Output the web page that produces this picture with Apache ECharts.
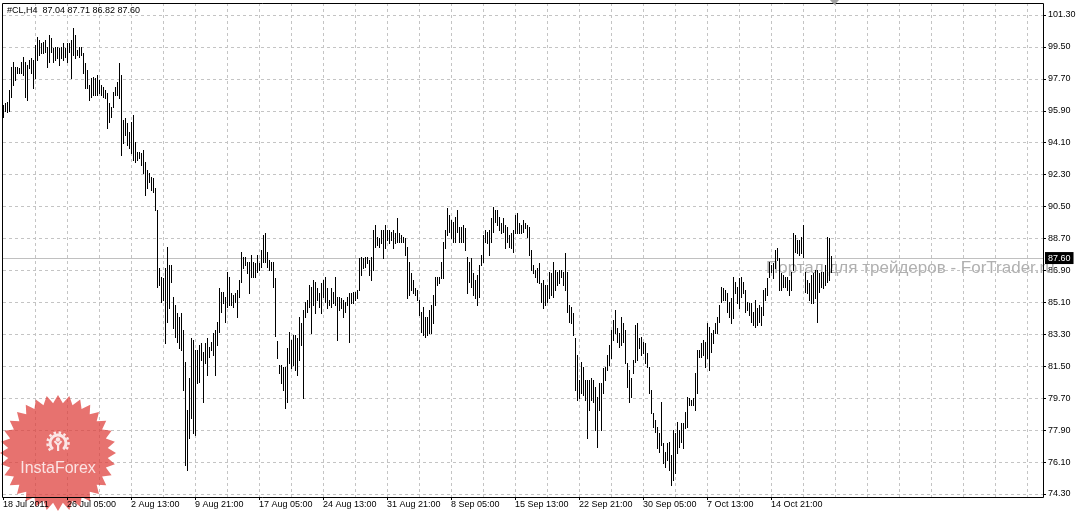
<!DOCTYPE html>
<html><head><meta charset="utf-8">
<script src="https://cdn.jsdelivr.net/npm/echarts@6/dist/echarts.min.js"></script>
<style>html,body{margin:0;padding:0;background:#fff}#c{width:1086px;height:516px}</style>
</head><body><div id="c"></div>
<script>
// ---- data ----
const symbolName = '#CL,H4';
const lastOpen = 87.04;
const lastClose = 87.60;
const xTickLabels = ['18 Jul 2011','26 Jul 05:00','2 Aug 13:00','9 Aug 21:00','17 Aug 05:00','24 Aug 13:00','31 Aug 21:00','8 Sep 05:00','15 Sep 13:00','22 Sep 21:00','30 Sep 05:00','7 Oct 13:00','14 Oct 21:00'];
const barsPerLabel = 32;
const barsPerGridLine = 16;
const totalSlots = 521;
const yMin = 74.30, yMax = 101.30, yStep = 1.80;
const watermark = 'Портал для трейдеров - ForTrader.ru';
const logoText = 'InstaForex';

const highs = [
96.23,96.34,96.40,97.07,98.37,98.65,98.37,98.37,98.32,98.65,
98.93,98.65,98.48,98.76,98.87,98.76,99.61,100.06,99.89,99.72,
99.78,99.89,99.50,100.17,100.00,99.44,99.50,99.50,99.44,99.50,
99.72,99.44,99.72,99.72,99.89,100.57,100.17,99.33,99.50,99.50,
99.16,98.59,98.20,97.36,97.75,97.81,97.75,97.92,97.64,97.36,
97.24,97.07,96.90,96.34,96.11,96.96,97.24,97.52,98.59,97.92,
95.38,95.49,95.21,94.71,95.27,95.66,94.14,93.58,93.58,93.52,
93.69,93.01,92.56,92.39,92.17,92.11,91.55,90.31,87.04,86.53,
86.47,87.04,88.22,87.21,87.21,85.40,84.95,84.50,84.28,84.50,
83.54,81.74,79.03,80.84,83.09,82.98,82.42,82.42,82.70,82.81,
82.31,82.81,83.09,82.59,82.87,83.37,83.54,83.99,85.91,85.69,
85.69,85.40,86.81,86.53,85.63,85.52,85.63,85.80,86.36,87.94,
87.66,87.66,87.38,87.38,87.77,87.38,87.32,87.77,87.32,88.05,
88.90,89.01,87.94,87.49,87.38,87.38,86.47,82.90,81.57,81.57,
81.46,81.46,82.53,83.43,82.98,83.26,83.26,83.09,84.28,83.94,
84.67,85.12,85.23,86.08,85.97,86.36,86.25,85.91,85.63,86.19,
86.36,86.53,85.91,85.23,85.91,85.69,86.53,85.40,85.40,85.34,
85.23,85.12,85.40,85.63,85.63,85.69,85.69,85.80,87.60,87.66,
87.60,87.66,87.66,87.49,87.66,89.18,89.47,88.79,88.73,89.18,
89.18,89.47,89.18,89.18,89.07,89.18,89.01,89.86,89.01,88.90,
88.79,88.73,88.22,87.38,86.76,86.36,85.91,85.80,85.23,84.56,
84.84,84.28,84.28,84.67,84.95,85.52,86.53,86.53,86.53,87.38,
88.50,89.18,90.42,90.03,89.75,89.63,89.92,90.31,89.35,89.35,
89.47,89.30,87.66,87.38,87.60,86.76,86.36,86.64,87.21,87.77,
88.90,89.18,89.07,89.18,89.86,90.48,90.31,90.31,89.92,89.58,
89.86,89.47,89.35,88.90,89.01,89.18,90.03,90.14,89.58,89.47,
89.75,89.58,89.47,89.35,88.05,87.21,86.93,87.04,87.32,86.19,
86.36,86.08,86.08,86.81,86.76,87.38,86.93,86.81,86.93,86.93,
86.81,87.88,86.81,84.95,84.84,84.50,83.09,82.13,80.72,81.74,
81.46,80.72,80.72,80.72,80.84,80.72,80.33,79.77,80.55,80.55,
81.40,81.46,82.13,82.70,83.54,84.11,84.67,83.66,83.37,84.28,
83.94,83.54,81.68,81.29,80.84,81.85,83.82,83.94,83.09,83.15,
82.87,82.81,82.25,81.46,80.16,78.87,78.47,78.08,77.74,79.49,
77.17,76.67,77.17,77.23,76.50,77.91,77.74,78.36,77.91,78.30,
78.30,78.92,79.77,79.71,79.60,79.71,81.12,82.42,82.42,82.81,
82.98,82.87,83.94,83.71,83.37,83.54,83.94,84.28,84.95,85.97,
85.91,85.80,85.63,85.12,85.34,86.53,86.25,85.97,86.47,86.53,
86.25,85.80,85.12,85.06,85.06,84.56,85.23,84.78,84.95,84.84,
85.80,85.91,86.47,87.38,87.21,87.32,88.05,88.17,87.60,86.76,
86.64,86.53,86.53,86.36,86.81,89.01,88.90,88.62,88.62,88.79,
89.47,86.81,86.36,86.19,86.64,86.76,86.93,86.93,86.76,86.81,
86.81,87.21,88.79,88.73,87.71
];
const lows = [
95.56,95.89,95.84,95.89,96.68,97.36,97.64,98.03,98.05,98.03,
97.92,96.68,96.51,98.31,98.03,97.19,97.75,98.76,99.05,99.16,
99.16,99.21,98.37,98.65,99.21,98.65,98.76,98.87,98.48,98.87,
98.76,98.93,98.65,99.21,97.75,99.05,98.87,99.05,98.93,99.05,
98.03,97.19,97.19,96.51,96.68,96.79,96.79,96.79,96.90,96.79,
96.68,96.62,94.93,95.27,95.56,96.11,96.79,96.79,96.62,93.41,
94.08,94.54,93.97,93.80,93.52,93.13,93.01,93.13,93.24,92.85,
92.39,91.15,91.55,91.89,91.44,91.32,90.31,85.97,86.08,85.12,
85.23,82.81,84.00,84.78,86.25,83.66,83.15,82.87,82.53,82.42,
80.16,75.94,75.65,77.45,78.58,77.74,77.63,80.55,80.61,81.85,
79.49,81.68,81.01,82.02,82.42,82.13,81.01,82.70,83.43,84.56,
85.06,83.99,84.84,84.95,84.95,84.84,85.12,84.28,85.40,86.25,
87.04,87.21,86.76,85.63,86.53,86.53,86.53,86.81,86.93,87.10,
87.38,87.38,87.10,86.93,86.93,85.97,83.20,81.97,81.12,80.55,
80.16,79.15,79.49,81.68,81.40,81.57,81.29,81.01,81.85,82.70,
79.71,84.28,84.56,84.84,83.37,84.95,84.50,85.23,84.84,84.50,
85.40,85.12,84.78,84.95,84.84,85.06,84.95,82.98,84.67,84.78,
84.28,84.56,84.95,82.87,85.06,85.06,85.23,85.34,85.80,86.64,
87.04,87.10,87.32,86.64,86.36,86.93,88.22,88.33,88.22,88.45,
87.60,88.17,88.62,88.45,88.62,88.17,88.45,88.50,88.50,88.50,
88.50,87.77,85.34,85.52,85.80,85.63,85.52,85.23,84.39,83.43,
83.26,83.15,83.26,83.37,83.37,83.94,84.95,86.08,86.19,86.47,
86.47,88.17,88.90,89.07,88.73,88.50,88.50,89.07,88.50,88.50,
88.50,88.05,85.63,86.25,85.97,85.52,85.34,84.95,85.40,87.21,
87.38,88.50,88.45,87.77,88.50,89.07,89.63,89.47,89.18,89.01,
89.07,88.17,88.50,88.22,88.17,87.94,89.01,89.01,89.01,89.01,
89.07,89.30,88.79,87.77,86.93,86.76,86.53,86.25,86.19,85.12,
84.78,84.95,85.12,85.34,85.52,85.40,85.80,86.08,86.19,86.53,
86.08,85.80,84.56,83.99,83.94,83.26,80.16,79.60,79.71,79.99,
79.88,79.60,77.45,79.03,79.60,79.49,77.91,76.95,79.03,77.91,
79.99,80.72,81.29,81.57,81.97,82.98,83.37,82.87,82.59,82.70,
82.87,81.68,80.33,79.49,79.77,81.12,81.74,81.85,82.53,82.13,
82.25,81.68,81.46,79.99,78.87,78.08,77.79,76.89,76.67,77.06,
76.05,75.82,76.22,75.65,74.81,75.09,75.48,76.61,76.95,77.23,
76.89,78.02,78.08,79.32,79.32,79.32,79.03,79.99,82.02,82.02,
82.13,81.46,81.97,81.29,82.31,82.81,83.37,83.37,83.99,85.12,
85.23,85.23,84.56,84.28,83.94,84.22,85.63,85.06,84.78,85.40,
85.63,84.56,84.67,84.39,83.99,83.82,83.71,83.82,83.99,83.82,
84.39,85.23,85.52,86.53,86.81,86.47,87.04,87.49,85.80,85.80,
85.97,85.97,85.80,85.52,85.80,86.93,87.94,87.88,87.77,87.88,
87.66,85.69,85.63,85.23,85.06,85.06,85.34,83.99,85.69,85.97,
85.91,86.08,86.25,86.36,86.82
];

// ---- chart ----
const FONT = '"Liberation Sans", Arial, sans-serif';
const GRID_COLOR = '#c4c4c4';
const cats = Array.from({length: totalSlots}, (_, i) => i);
const barData = highs.map((h, i) => [i, lows[i], h]);
const last = highs.length - 1;
const header = symbolName + '  ' + [lastOpen, highs[last], lows[last], lastClose].map(v => v.toFixed(2)).join(' ');
const labelAt = (i) => i % barsPerLabel === 0 && (i / barsPerLabel) < xTickLabels.length;

const starPts = [];
(function(){
  const N = 32, cx = 58, cy = 453, R = 58, r = 50;
  for (let k = 0; k < 2 * N; k++) {
    const a = Math.PI * k / N - Math.PI / 2;
    const rr = (k % 2) ? r : R;
    starPts.push([cx + rr * Math.cos(a), cy + rr * Math.sin(a)]);
  }
})();

const chart = echarts.init(document.getElementById('c'), null, {renderer: 'canvas'});
chart.setOption({
  animation: false,
  backgroundColor: '#ffffff',
  grid: [
    {left: 3, right: 43, top: 3, bottom: 19},
    {left: 3, right: 43, top: 15, bottom: 22}
  ],
  xAxis: [
    {gridIndex: 0, type: 'category', data: cats, boundaryGap: false, position: 'bottom', z: 20,
      axisLine: {show: false},
      axisTick: {show: true, length: 3, interval: labelAt, lineStyle: {color: '#000', width: 1}},
      axisLabel: {show: true, interval: labelAt, formatter: (v, i) => xTickLabels[i / barsPerLabel] || '',
        align: 'left', margin: 3, fontSize: 9, fontFamily: FONT, color: '#000'},
      splitLine: {show: false}},
    {gridIndex: 0, type: 'category', data: cats, boundaryGap: false, position: 'top',
      axisLine: {show: false}, axisTick: {show: false}, axisLabel: {show: false},
      splitLine: {show: true, interval: (i) => i > 0 && i % barsPerGridLine === 0,
        lineStyle: {color: GRID_COLOR, type: [3, 3], width: 1}}},
    {gridIndex: 1, type: 'category', data: cats, boundaryGap: false, show: false}
  ],
  yAxis: [
    {gridIndex: 0, type: 'value', min: 0, max: 1, show: false},
    {gridIndex: 1, type: 'value', position: 'right', min: yMin, max: yMax, interval: yStep,
      axisLine: {show: false},
      axisTick: {show: true, length: 3, lineStyle: {color: '#000'}},
      axisLabel: {margin: 5, fontSize: 9, fontFamily: FONT, color: '#000', formatter: v => v.toFixed(2)},
      splitLine: {show: true, lineStyle: {color: GRID_COLOR, type: [3, 3], width: 1}}}
  ],
  series: [{
    type: 'custom',
    xAxisIndex: 2, yAxisIndex: 1,
    data: barData,
    encode: {x: 0, y: [1, 2]},
    clip: false,
    z: 5,
    renderItem: function (params, api) {
      const i = api.value(0);
      const top = api.coord([i, api.value(2)]);
      const bot = api.coord([i, api.value(1)]);
      const px = Math.round(top[0]) + 0.5;
      return {type: 'line', shape: {x1: px, y1: Math.round(top[1]), x2: px, y2: Math.round(bot[1]) + 1},
        style: {stroke: '#000', lineWidth: 1}};
    },
    markLine: {
      silent: true, symbol: 'none', animation: false, z: 3,
      data: [{yAxis: lastClose}],
      lineStyle: {color: '#c0c0c0', type: 'solid', width: 1},
      label: {show: true, position: 'end', formatter: lastClose.toFixed(2), color: '#fff',
        backgroundColor: '#000', padding: [2, 3, 1, 3], fontSize: 9, fontFamily: FONT, distance: 2}
    }
  }],
  graphic: [
    {type: 'text', x: 766, y: 268, z: 1, silent: true,
      style: {text: watermark, fill: '#b0b0b0', fontSize: 17, fontFamily: FONT, align: 'left', verticalAlign: 'middle'}},
    {type: 'rect', z: 30, silent: true, shape: {x: 2.5, y: 3.5, width: 1041, height: 494},
      style: {fill: null, stroke: '#000', lineWidth: 1}},
    {type: 'text', left: 7, top: 6, z: 30, silent: true,
      style: {text: header, fill: '#000', fontSize: 9, fontFamily: FONT}},
    {type: 'polygon', z: 30, silent: true, shape: {points: [[830, 0], [839, 0], [834.5, 5]]},
      style: {fill: '#a0a0a0'}},
    {type: 'polygon', z: 15, silent: true, shape: {points: starPts},
      style: {fill: 'rgba(222,60,55,0.72)'}},
    {type: 'arc', z: 16, silent: true, shape: {cx: 58, cy: 443, r: 8, startAngle: Math.PI / 2 + 0.7, endAngle: Math.PI / 2 - 0.7 + Math.PI * 2, clockwise: true},
      style: {stroke: '#fbe6e6', lineWidth: 3, fill: null}},
    {type: 'arc', z: 16, silent: true, shape: {cx: 58, cy: 443, r: 10.5, startAngle: Math.PI / 2 + 0.8, endAngle: Math.PI / 2 - 0.8 + Math.PI * 2, clockwise: true},
      style: {stroke: '#fbe6e6', lineWidth: 2.5, fill: null, lineDash: [2.5, 2.5]}},
    {type: 'circle', z: 16, silent: true, shape: {cx: 58, cy: 439.5, r: 2.2}, style: {fill: '#fbe6e6'}},
    {type: 'polyline', z: 16, silent: true, shape: {points: [[54.5, 441], [58, 445], [61.5, 441]]},
      style: {stroke: '#fbe6e6', lineWidth: 2, fill: null}},
    {type: 'rect', z: 16, silent: true, shape: {x: 57, y: 444, width: 2.2, height: 7}, style: {fill: '#fbe6e6'}},
    {type: 'text', z: 16, silent: true, x: 58, y: 469,
      style: {text: logoText, fill: '#fbe3e3', fontSize: 16, fontFamily: FONT, align: 'center', verticalAlign: 'middle'}}
  ]
});
</script>
</body></html>
